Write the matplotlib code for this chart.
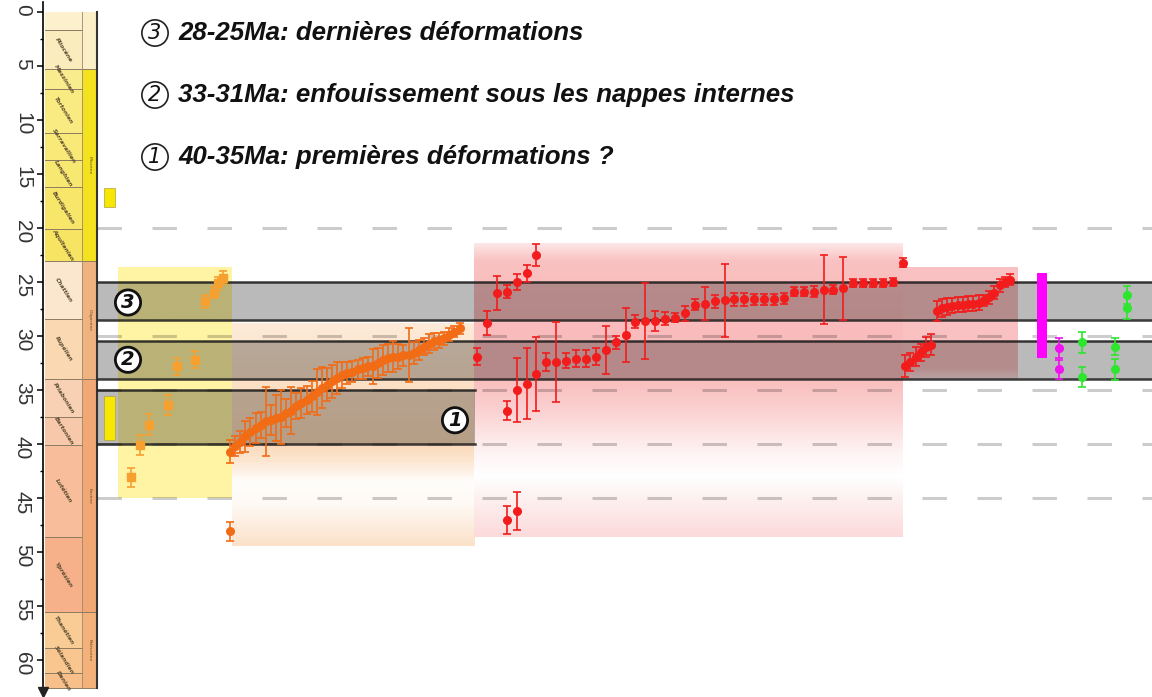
import matplotlib.pyplot as plt
import numpy as np
from matplotlib import font_manager
from matplotlib.patches import Rectangle

# ---------------------------------------------------------------- data
# stratigraphic column (ages in Ma)
stage_tops = [0, 1.7, 5.3, 7.1, 11.2, 13.7, 16.2, 20.1, 23.1, 28.4, 34.0,
              37.5, 40.1, 48.6, 55.6, 58.9, 61.2]
stage_bases = stage_tops[1:] + [62.6]
stage_names = ["", "Pliocène", "Messinien", "Tortonien", "Serravallien",
               "Langhien", "Burdigalien", "Aquitanien", "Chattien", "Rupélien",
               "Priabonien", "Bartonien", "Lutétien", "Yprésien", "Thanétien",
               "Sélandien", "Danien"]
stage_colors = ["#FCF1CC", "#FBECBE", "#F9EC8E", "#F9EB82", "#F8E978",
                "#F7E872", "#F7E66A", "#F6E462", "#FBE6CE", "#F9D8B2",
                "#F8D0B4", "#F7C8AA", "#F8BD9A", "#F7B18A", "#F9CC96",
                "#F8C68E", "#F7BF8A"]

epoch_names = ["", "Miocène", "Oligocène", "Eocène", "Paléocène"]
epoch_tops = [0, 5.3, 23.1, 34.0, 55.6]
epoch_bases = [5.3, 23.1, 34.0, 55.6, 62.6]
epoch_colors = ["#FBEFC8", "#F5E21E", "#F0B27E", "#F2A874", "#F4B27A"]

# deformation phases (grey bands)
phase_labels = ["1", "2", "3"]
phase_tops = [35.0, 30.5, 25.0]
phase_bases = [40.0, 34.0, 28.5]
phase_texts = ["40-35Ma: premières déformations ?",
               "33-31Ma: enfouissement sous les nappes internes",
               "28-25Ma: dernières déformations"]

ref_ages = [20, 30, 35, 40, 45]

# age windows of the sample groups (top, base)
yellow_window = (23.7, 45.0)
orange_window = (28.8, 49.4)
red_window = (21.4, 48.6)
red3_window = (23.7, 34.0)

# group A (yellow field)
a_slot = [0, 2, 4, 8, 10, 14, 16, 18, 19, 20]
a_age = [43.1, 40.1, 38.2, 36.4, 32.8, 32.2, 26.8, 26.0, 25.1, 24.6]
a_err = [0.9, 0.9, 1.0, 0.9, 0.8, 0.8, 0.6, 0.5, 0.6, 0.6]

# group B (orange field)
b_age = [40.7, 40.2, 39.8, 39.3, 38.9, 38.5, 38.2, 37.9, 37.8, 37.6,
         37.5, 37.1, 36.9, 36.5, 36.2, 35.9, 35.6, 35.2, 34.8, 34.5,
         34.2, 33.9, 33.6, 33.4, 33.3, 33.1, 33.0, 32.8, 32.8, 32.5,
         32.2, 32.0, 31.9, 31.9, 31.8, 31.8, 31.6, 31.3, 31.0, 30.7,
         30.5, 30.4, 30.2, 29.9, 29.6, 29.3, 48.1]
b_err = [1.1, 0.9, 1.0, 1.4, 1.3, 1.4, 1.2, 3.2, 1.4, 2.1,
         2.5, 1.3, 2.2, 1.2, 1.4, 1.3, 1.4, 2.1, 1.9, 1.5,
         1.5, 1.5, 1.2, 1.0, 1.0, 0.9, 1.0, 0.9, 1.6, 1.4,
         1.4, 1.3, 1.4, 1.2, 1.0, 2.5, 1.0, 0.9, 0.8, 0.9,
         0.8, 0.7, 0.6, 0.6, 0.5, 0.5, 0.9]
b_slot = list(range(46)) + [0]

# group C (red field)
c_slot = [0, 1, 2, 3, 3, 3, 4, 4, 4, 5, 5, 6, 6, 7, 8, 9, 10, 11, 12, 13,
          14, 15, 16, 17, 18, 19, 20, 21, 22, 23, 24, 25, 26, 27, 28, 29,
          30, 31, 32, 33, 34, 35, 36, 37, 38, 39, 40, 41, 42, 43]
c_age = [31.9, 28.8, 26.0, 25.9, 36.9, 47.0, 25.0, 35.0, 46.2, 24.2, 34.4,
         22.5, 33.5, 32.4, 32.4, 32.3, 32.1, 32.1, 31.9, 31.3, 30.6, 29.9,
         28.7, 28.6, 28.6, 28.4, 28.3, 27.9, 27.1, 27.0, 26.8, 26.7, 26.6,
         26.6, 26.6, 26.6, 26.6, 26.5, 25.9, 25.9, 25.9, 25.7, 25.7, 25.6,
         25.1, 25.1, 25.1, 25.1, 25.0, 23.2]
c_err = [0.8, 1.1, 1.6, 0.6, 0.9, 1.3, 0.7, 3.0, 1.8, 0.8, 3.3,
         1.0, 3.4, 0.8, 3.7, 0.7, 0.8, 0.8, 0.8, 2.2, 0.6, 2.5,
         0.6, 3.5, 0.9, 0.6, 0.4, 0.7, 0.5, 1.5, 0.6, 3.4, 0.6,
         0.6, 0.5, 0.5, 0.5, 0.5, 0.4, 0.4, 0.5, 3.2, 0.4, 2.9,
         0.4, 0.4, 0.4, 0.4, 0.4, 0.4]

# group D (second red field)
d_age = [32.8, 32.4, 31.9, 31.5, 31.0, 30.8, 27.7, 27.4, 27.3, 27.2, 27.1,
         27.1, 27.0, 27.0, 26.9, 26.7, 26.4, 26.0, 25.3, 25.0, 24.8]
d_err = [1.0, 0.8, 0.9, 0.8, 0.9, 1.0, 0.9, 0.8, 0.8, 0.7, 0.7,
         0.7, 0.7, 0.7, 0.7, 0.5, 0.6, 0.6, 0.6, 0.5, 0.5]

# range bars (top, base)
yellow_ranges = [(16.3, 18.1), (35.6, 39.6)]
magenta_range = (24.2, 32.0)

magenta_age = [31.1, 33.1]
magenta_err = [0.9, 0.9]
green1_age = [30.6, 33.8]
green1_err = [1.0, 0.9]
green2_age = [31.0, 33.1]
green2_err = [0.8, 1.0]
green3_age = [26.2, 27.4]
green3_err = [0.8, 1.0]

# ---------------------------------------------------------------- style
names = {f.name for f in font_manager.fontManager.ttflist}
NARROW = "Liberation Sans Narrow" in names
TXT_FONT = "Liberation Sans Narrow" if NARROW else "Liberation Sans"
TITLE_SIZE = 20.5 if NARROW else 18.6
TICK_SIZE = 17 if NARROW else 15

W, H = 1152, 697
fig = plt.figure(figsize=(W / 100, H / 100), dpi=100)
ax = fig.add_axes([0, 0, 1, 1])
ax.set_facecolor("white")

# x is laid out in figure pixels, y in Ma (12 px at 0 Ma, 10.8 px / Ma)
PX_PER_MA = 10.8
Y0 = 12


def gradient_box(x0, x1, window, rgb, stops):
    top, base = window
    ages = np.linspace(top, base, 300)
    s_age, s_alpha = zip(*stops)
    alpha = np.interp(ages, s_age, s_alpha)
    rgb = np.array(rgb) / 255.0
    img = 1 - alpha[:, None, None] * (1 - rgb[None, None, :])
    img = np.repeat(img, 2, axis=1)
    ax.imshow(img, extent=(x0, x1, base, top), origin="upper",
              aspect="auto", interpolation="bilinear", zorder=1)


gradient_box(118, 232, yellow_window, (255, 235, 90), [(23.7, 0.55), (45.0, 0.55)])
gradient_box(232, 475, orange_window, (242, 150, 60),
             [(28.8, 0.2), (35, 0.3), (40, 0.36), (41.5, 0.24), (43.5, 0.02),
              (45.5, 0.05), (49.4, 0.28)])
gradient_box(474, 903, red_window, (238, 50, 50),
             [(21.4, 0.12), (23, 0.3), (28, 0.33), (34, 0.32), (37, 0.22),
              (41, 0.05), (43, 0.0), (45, 0.07), (48.6, 0.18)])
gradient_box(903, 1018, red3_window, (238, 50, 50),
             [(23.7, 0.3), (33.0, 0.3), (34.0, 0.15)])

# reference dashed lines (dark, translucent so they tint with the fields)
for a in ref_ages:
    ax.plot([97, W], [a, a], color="black", alpha=0.2, lw=2.2,
            ls=(0, (8, 10)), zorder=2, solid_capstyle="butt")

# grey deformation bands
for lab, top, base in zip(phase_labels, phase_tops, phase_bases):
    x1 = 475 if lab == "1" else W
    ax.add_patch(Rectangle((98, top), x1 - 98, base - top, color="black",
                           alpha=0.27, lw=0, zorder=3))
    for a in (top, base):
        ax.plot([98, x1], [a, a], color="#1a1a1a", lw=1.8, alpha=0.85, zorder=3.5)

# stratigraphic column
for top, base, col, nm in zip(stage_tops, stage_bases, stage_colors, stage_names):
    ax.add_patch(Rectangle((45, top), 37, base - top, fc=col, ec="none", zorder=2))
    ax.plot([45, 82], [base, base], color="#8c7b62", lw=0.7, zorder=2.5)
    if nm:
        ax.text(63.5, (top + base) / 2, nm, fontsize=4.2, style="italic",
                fontweight="bold", rotation=-58, ha="center", va="center",
                color="#5a4a30", zorder=2.6)
for top, base, col, nm in zip(epoch_tops, epoch_bases, epoch_colors, epoch_names):
    ax.add_patch(Rectangle((82, top), 15, base - top, fc=col, ec="none", zorder=2))
    ax.plot([82, 97], [base, base], color="#8c7b62", lw=0.7, zorder=2.5)
    if nm:
        ax.text(89.5, (top + base) / 2, nm, fontsize=3.2, rotation=-90,
                ha="center", va="center", color="#6a4a20", zorder=2.6)
ax.plot([82, 82], [0, 62.6], color="#9a8a70", lw=0.6, zorder=2.5)
ax.plot([97, 97], [0, 62.6], color="#333333", lw=1.5, zorder=2.6)

# range bars
for top, base in yellow_ranges:
    ax.add_patch(Rectangle((104, top), 11, base - top, fc="#F7E600",
                           ec="#b0a040", lw=0.5, zorder=5))
ax.add_patch(Rectangle((1037, magenta_range[0]), 10,
                       magenta_range[1] - magenta_range[0], fc="#FF00FF",
                       ec="none", zorder=5))

ekw = dict(ls="none", ms=5.5, capsize=2.6, elinewidth=1.2, capthick=1.2, zorder=5)

ax.errorbar(131 + 4.6 * np.array(a_slot), a_age, yerr=a_err, color="#F6A030",
            marker="s", **ekw)
ax.errorbar(230 + 5.1 * np.array(b_slot), b_age, yerr=b_err, color="#F26B15",
            marker="o", **ekw)
ax.errorbar(477 + 9.9 * np.array(c_slot), c_age, yerr=c_err, color="#F21C1C",
            marker="o", **ekw)
ax.errorbar(905 + 5.25 * np.arange(len(d_age)), d_age, yerr=d_err,
            color="#F21C1C", marker="o", **ekw)
ax.errorbar([1059] * 2, magenta_age, yerr=magenta_err, color="#F010F0",
            marker="o", **ekw)
for xc, ages, errs in zip([1082, 1115, 1127], [green1_age, green2_age, green3_age],
                          [green1_err, green2_err, green3_err]):
    ax.errorbar([xc] * 2, ages, yerr=errs, color="#2EE62E", marker="o", **ekw)

# circled phase numbers inside the chart
for lab, x, a in zip(phase_labels, [455, 128, 128], [37.8, 32.2, 26.9]):
    ax.text(x, a, lab, fontsize=14, fontweight="bold", style="italic",
            ha="center", va="center", color="#111", zorder=7,
            bbox=dict(boxstyle="circle,pad=0.16", fc="white", ec="#111", lw=2))

# legend texts at the top
for lab, txt, yp in zip(phase_labels, phase_texts, [157, 95, 33]):
    fig.text(155 / W, 1 - yp / H, lab, fontsize=15, style="italic",
             ha="center", va="center", color="#111",
             bbox=dict(boxstyle="circle,pad=0.15", fc="white", ec="#222", lw=1.2))
    fig.text(178 / W, 1 - yp / H, txt, fontsize=TITLE_SIZE, fontweight="bold",
             style="italic", family=TXT_FONT, ha="left", va="center", color="#111")

# age axis
ax.set_xlim(0, W)
ax.set_ylim((H - Y0) / PX_PER_MA, -Y0 / PX_PER_MA)
for s in ("top", "right", "bottom"):
    ax.spines[s].set_visible(False)
ax.spines["left"].set_position(("data", 43))
ax.spines["left"].set_bounds(-0.9, 62.8)
ax.spines["left"].set_linewidth(1.2)
ax.xaxis.set_visible(False)
ax.set_yticks(np.arange(0, 61, 5))
ax.set_yticks(np.arange(2.5, 61, 5), minor=True)
ax.set_yticklabels([str(v) for v in range(0, 61, 5)], rotation=-90,
                   fontsize=TICK_SIZE, family=TXT_FONT, color="#333")
ax.tick_params(axis="y", which="major", length=4, width=1.1, pad=4)
ax.tick_params(axis="y", which="minor", length=2.5, width=1)
ax.plot([43], [63.0], marker="v", color="#222", ms=7, clip_on=False, zorder=8)

fig.savefig("out.png", dpi=100)
